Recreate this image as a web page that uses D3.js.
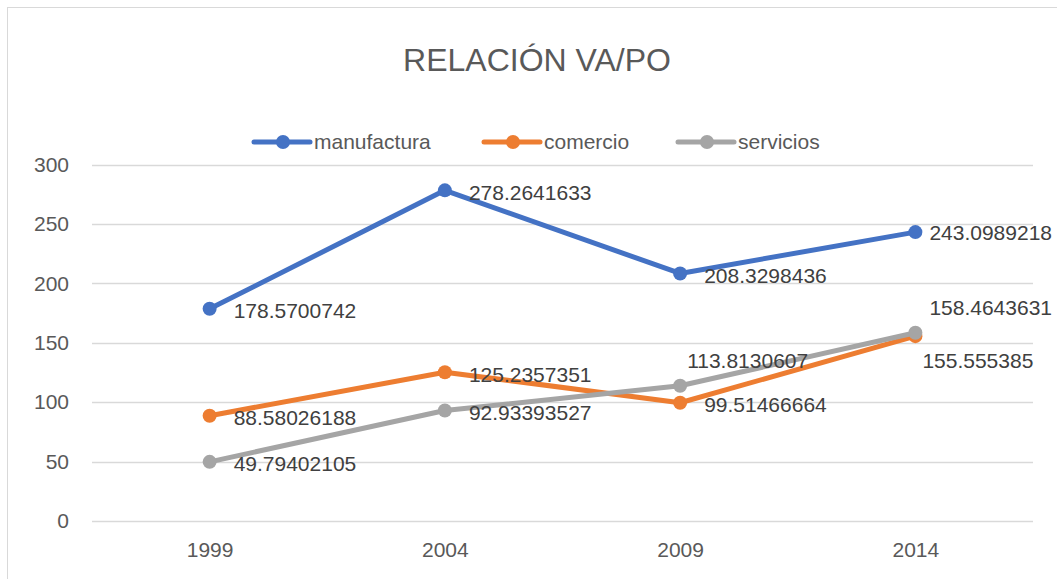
<!DOCTYPE html>
<html>
<head>
<meta charset="utf-8">
<script src="https://cdn.jsdelivr.net/npm/d3@7"></script>
<style>
  body { margin: 0; background: #fff; }
  svg { display: block; font-family: "Liberation Sans", Arial, sans-serif; }
</style>
</head>
<body>
<svg id="chart" width="1057" height="579"></svg>
<script>
// chart data
const years = ["1999", "2004", "2009", "2014"];
const manufactura = [178.5700742, 278.2641633, 208.3298436, 243.0989218];
const comercio = [88.58026188, 125.2357351, 99.51466664, 155.555385];
const servicios = [49.79402105, 92.93393527, 113.8130607, 158.4643631];
const yTicks = [0, 50, 100, 150, 200, 250, 300];

const series = [
  {name: "manufactura", values: manufactura, color: "#4472C4"},
  {name: "comercio", values: comercio, color: "#ED7D31"},
  {name: "servicios", values: servicios, color: "#A5A5A5"}
];

// label nudges where the default (right of point) would collide or overflow
const labelNudge = {
  "manufactura-2014": {dx: 14, dy: 1},
  "servicios-2009": {dx: 7, dy: -25},
  "servicios-2014": {dx: 14, dy: -25},
  "comercio-2014": {dx: 7, dy: 25}
};

const svg = d3.select("#chart");
const margin = {left: 92, right: 24};
const W = 1057;

// outer chart border
svg.append("rect")
  .attr("x", 7.5).attr("y", 7.5)
  .attr("width", 1200).attr("height", 800)
  .attr("fill", "none").attr("stroke", "#D9D9D9");

const x = d3.scalePoint().domain(years)
  .range([margin.left, W - margin.right]).padding(0.5);
const y = d3.scaleLinear().domain([0, 300])
  .range([521, 164.5]);

// gridlines
svg.append("g").selectAll("line").data(yTicks).join("line")
  .attr("x1", margin.left).attr("x2", W - margin.right)
  .attr("y1", d => Math.round(y(d)) + 0.5).attr("y2", d => Math.round(y(d)) + 0.5)
  .attr("stroke", "#D9D9D9").attr("stroke-width", 1.5);

// y axis labels
const yAxis = svg.append("g")
  .attr("transform", `translate(${margin.left},0)`)
  .call(d3.axisLeft(y).tickValues(yTicks).tickSize(0).tickPadding(23));
yAxis.select(".domain").remove();
yAxis.selectAll("text").attr("font-size", 21).attr("fill", "#595959")
  .attr("font-family", "Liberation Sans, Arial, sans-serif");

// x axis labels
const xAxis = svg.append("g")
  .attr("transform", "translate(0,521)")
  .call(d3.axisBottom(x).tickSize(0).tickPadding(21));
xAxis.select(".domain").remove();
xAxis.selectAll("text").attr("font-size", 21).attr("fill", "#595959")
  .attr("font-family", "Liberation Sans, Arial, sans-serif");

// title
svg.append("text")
  .attr("x", 537).attr("y", 71)
  .attr("text-anchor", "middle")
  .attr("font-size", 32).attr("fill", "#595959")
  .text("RELACIÓN VA/PO");

// legend
const legendX = [254, 484, 678];
const legend = svg.append("g").selectAll("g").data(series).join("g")
  .attr("transform", (d, i) => `translate(${legendX[i]},142)`);
legend.append("line")
  .attr("x1", 0).attr("x2", 56)
  .attr("stroke", d => d.color).attr("stroke-width", 5).attr("stroke-linecap", "round");
legend.append("circle")
  .attr("cx", 29).attr("r", 7).attr("fill", d => d.color);
legend.append("text")
  .attr("x", 60).attr("dy", "0.35em")
  .attr("font-size", 21).attr("fill", "#595959")
  .text(d => d.name);

// lines
const line = d3.line()
  .x((d, i) => x(years[i]))
  .y(d => y(d));

const g = svg.append("g").selectAll("g").data(series).join("g");
g.append("path")
  .attr("d", d => line(d.values))
  .attr("fill", "none").attr("stroke", d => d.color)
  .attr("stroke-width", 5).attr("stroke-linejoin", "round").attr("stroke-linecap", "round");
g.selectAll("circle").data(d => d.values.map(v => ({v, color: d.color}))).join("circle")
  .attr("cx", (d, i) => x(years[i])).attr("cy", d => y(d.v))
  .attr("r", 7).attr("fill", d => d.color);

// data labels
const labels = [];
series.forEach(s => s.values.forEach((v, i) => {
  const nudge = labelNudge[s.name + "-" + years[i]] || {dx: 24, dy: 2};
  labels.push({v, x: x(years[i]) + nudge.dx, y: y(v) + nudge.dy});
}));
svg.append("g").selectAll("text").data(labels).join("text")
  .attr("x", d => d.x).attr("y", d => d.y).attr("dy", "0.35em")
  .attr("font-size", 21).attr("fill", "#404040")
  .text(d => d.v);
</script>
</body>
</html>
